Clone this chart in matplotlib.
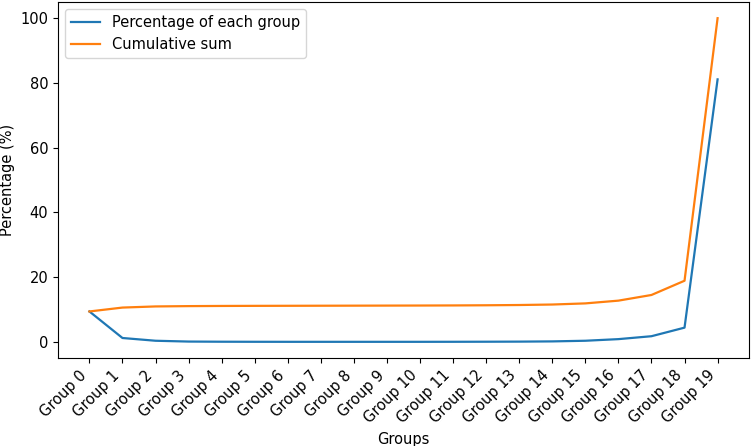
import matplotlib
matplotlib.use("Agg")
import matplotlib.pyplot as plt

plt.rcParams["font.size"] = 10.5
plt.rcParams["lines.linewidth"] = 1.6

groups = ["Group %d" % i for i in range(20)]

# percentage of each group
pct = [9.4, 1.2, 0.35, 0.1, 0.05, 0.03, 0.02, 0.02, 0.02, 0.02,
       0.02, 0.03, 0.05, 0.08, 0.15, 0.35, 0.85, 1.75, 4.4, 81.1]

# cumulative sum
cum = [9.4, 10.6, 10.95, 11.05, 11.1, 11.13, 11.15, 11.17, 11.19, 11.21,
       11.23, 11.26, 11.31, 11.39, 11.54, 11.89, 12.74, 14.49, 18.89, 100.0]

fig = plt.figure(figsize=(7.51, 4.46), dpi=100)
ax = fig.add_axes([58 / 751, 1 - 358 / 446, (749 - 58) / 751, (358 - 2) / 446])

ax.plot(groups, pct, label="Percentage of each group")
ax.plot(groups, cum, label="Cumulative sum")

ax.set_xlabel("Groups")
ax.set_ylabel("Percentage (%)")
plt.setp(ax.get_xticklabels(), rotation=45, ha="right")
ax.legend(loc="upper left")

fig.savefig("out.png", dpi=100)
